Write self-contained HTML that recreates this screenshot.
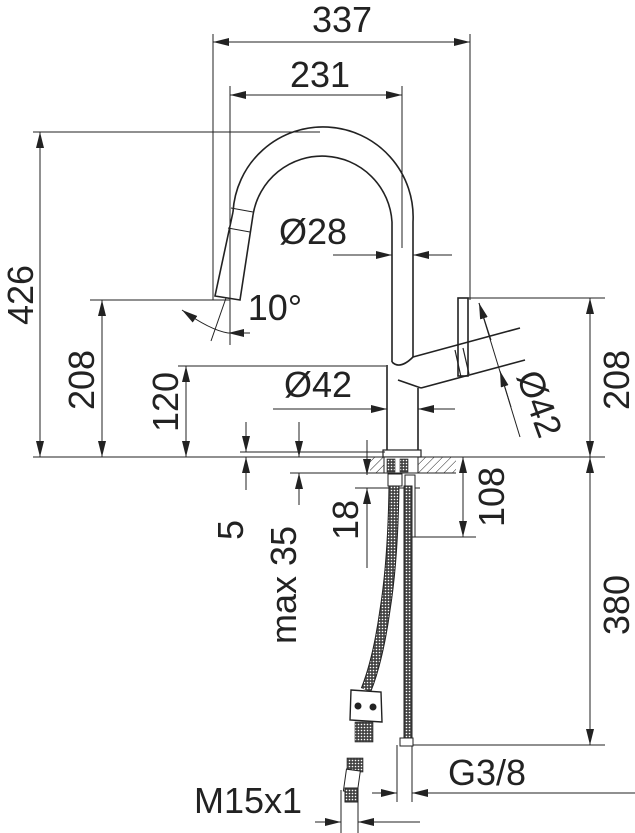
<!DOCTYPE html>
<html><head><style>html,body{margin:0;padding:0;background:#fff}svg{display:block}text{font-family:"Liberation Sans",sans-serif;fill:#222}</style></head>
<body>
<svg width="635" height="833" viewBox="0 0 635 833" xmlns="http://www.w3.org/2000/svg">
<defs>
<marker id="b" viewBox="0 0 16 8" refX="16" refY="4" markerWidth="16" markerHeight="8" orient="auto-start-reverse" markerUnits="userSpaceOnUse"><path d="M0,0L16,4L0,8z" fill="#222"/></marker>
<pattern id="h" width="6" height="6" patternUnits="userSpaceOnUse" patternTransform="rotate(45)"><line x1="0" y1="0" x2="0" y2="6" stroke="#222" stroke-width="1"/></pattern>
<pattern id="m" width="3" height="3" patternUnits="userSpaceOnUse"><rect width="3" height="3" fill="#444"/><circle cx="1.5" cy="1.5" r=".8" fill="#fff"/></pattern>
</defs>
<g stroke="#222" stroke-width="1" fill="none">
<line x1="213" y1="34" x2="213" y2="300"/>
<line x1="470" y1="34" x2="470" y2="300"/>
<line x1="230" y1="86" x2="230" y2="345"/>
<line x1="402" y1="86" x2="402" y2="248"/>
<line x1="33" y1="132" x2="320" y2="132"/>
<line x1="90" y1="300" x2="230" y2="300"/>
<line x1="178" y1="366" x2="386" y2="366"/>
<line x1="460" y1="298" x2="605" y2="298"/>
<line x1="33" y1="457" x2="605" y2="457"/>
<line x1="410" y1="537" x2="476" y2="537"/>
<line x1="400" y1="745" x2="605" y2="745"/>
<line x1="240" y1="452" x2="385" y2="452"/>
<line x1="290" y1="473" x2="385" y2="473"/>
<line x1="355" y1="488" x2="420" y2="488"/>
<line x1="397" y1="745" x2="397" y2="802"/>
<line x1="412" y1="745" x2="412" y2="802"/>
<line x1="341" y1="790" x2="341" y2="833"/>
<line x1="358" y1="790" x2="358" y2="833"/>
<line x1="213" y1="42" x2="470" y2="42" marker-start="url(#b)" marker-end="url(#b)"/>
<line x1="230" y1="95" x2="402" y2="95" marker-start="url(#b)" marker-end="url(#b)"/>
<line x1="40" y1="132" x2="40" y2="457" marker-start="url(#b)" marker-end="url(#b)"/>
<line x1="102" y1="300" x2="102" y2="457" marker-start="url(#b)" marker-end="url(#b)"/>
<line x1="186" y1="366" x2="186" y2="457" marker-start="url(#b)" marker-end="url(#b)"/>
<line x1="590" y1="298" x2="590" y2="457" marker-start="url(#b)" marker-end="url(#b)"/>
<line x1="463" y1="457" x2="463" y2="537" marker-start="url(#b)" marker-end="url(#b)"/>
<line x1="590" y1="457" x2="590" y2="745" marker-start="url(#b)" marker-end="url(#b)"/>
<line x1="246" y1="422" x2="246" y2="452" marker-end="url(#b)"/>
<line x1="246" y1="490" x2="246" y2="457" marker-end="url(#b)"/>
<line x1="299" y1="422" x2="299" y2="457" marker-end="url(#b)"/>
<line x1="299" y1="505" x2="299" y2="473" marker-end="url(#b)"/>
<line x1="367" y1="440" x2="367" y2="475" marker-end="url(#b)"/>
<line x1="367" y1="568" x2="367" y2="488" marker-end="url(#b)"/>
<line x1="333" y1="255" x2="392" y2="255" marker-end="url(#b)"/>
<line x1="452" y1="255" x2="413" y2="255" marker-end="url(#b)"/>
<line x1="273" y1="409" x2="387" y2="409" marker-end="url(#b)"/>
<line x1="455" y1="409" x2="418" y2="409" marker-end="url(#b)"/>
<line x1="250" y1="333" x2="228" y2="333" marker-end="url(#b)"/>
<path d="M182,310 Q210,330 228,333" marker-start="url(#b)"/>
<line x1="211" y1="341" x2="226" y2="298"/>
<line x1="479" y1="303" x2="520" y2="437"/>
<line x1="479" y1="303" x2="491" y2="340" marker-start="url(#b)"/>
<line x1="511" y1="407" x2="500" y2="371" marker-end="url(#b)"/>
<line x1="372" y1="793" x2="397" y2="793" marker-end="url(#b)"/>
<line x1="437" y1="793" x2="412" y2="793" marker-end="url(#b)"/>
<line x1="315" y1="822" x2="341" y2="822" marker-end="url(#b)"/>
<line x1="392" y1="822" x2="358" y2="822" marker-end="url(#b)"/>
<line x1="437" y1="793" x2="635" y2="793"/>
<line x1="392" y1="822" x2="420" y2="822"/>
</g>
<g stroke="#222" stroke-width="1.6" fill="none">
<path d="M233,212 A90,90 0 0 1 413,222 L413,357"/>
<path d="M253,215 A70,70 0 0 1 392,222 L392,362"/>
<path d="M233,212 L215,296 L240,300 L253,215"/>
<line x1="231" y1="208" x2="253" y2="212" stroke-width="1"/>
<line x1="228" y1="228" x2="250" y2="232" stroke-width="1"/>
<path d="M392,362 Q400,370 413,357"/>
<path d="M413,357 L520,328"/>
<path d="M421,388 L525,360"/>
<path d="M398,380 L421,388"/>
<path d="M387,365 L387,450 M418,388 L418,450"/>
<rect x="458" y="298" width="10" height="78"/>
<path d="M455,350 L461,377 M463,348 L469,374" stroke-width="1.2"/>
<rect x="383" y="450" width="38" height="7" stroke-width="1.2"/>
</g>
<rect x="370" y="457" width="86" height="16" fill="url(#h)" stroke="none"/>
<line x1="370" y1="473" x2="456" y2="473" stroke="#222"/>
<rect x="384" y="457" width="34" height="16" fill="#fff" stroke="#222"/>
<rect x="387" y="459" width="8" height="13" fill="url(#m)" stroke="#222" stroke-width=".6"/>
<rect x="400" y="459" width="8" height="13" fill="url(#m)" stroke="#222" stroke-width=".6"/>
<rect x="388" y="474" width="14" height="12" fill="#fff" stroke="#222"/>
<rect x="405" y="475" width="10" height="62" fill="#fff" stroke="#222"/>
<path d="M394,486 Q393,560 385,610 Q378,660 366,690" stroke="#222" stroke-width="11" fill="none"/>
<path d="M394,486 Q393,560 385,610 Q378,660 366,690" stroke="url(#m)" stroke-width="9" fill="none"/>
<rect x="404" y="486" width="8" height="252" fill="url(#m)" stroke="#222" stroke-width="1"/>
<rect x="400" y="738" width="13" height="8" fill="#fff" stroke="#222"/>
<path d="M351,690 L381,692 L382,722 L350,720 Z" fill="#fff" stroke="#222" stroke-width="1.4"/>
<circle cx="358" cy="706" r="3.5" fill="#222"/><circle cx="373" cy="707" r="3.5" fill="#222"/>
<rect x="355" y="722" width="18" height="20" fill="url(#m)" stroke="#222" stroke-width=".6"/>
<rect x="347" y="758" width="16" height="14" fill="url(#m)" stroke="#222" stroke-width=".6"/>
<rect x="345" y="770" width="14" height="22" fill="#fff" stroke="#222" transform="rotate(8 352 780)"/>
<rect x="345" y="788" width="13" height="14" fill="url(#m)" stroke="#222" stroke-width="1"/>
<g font-size="36">
<text x="342" y="32" text-anchor="middle">337</text>
<text x="320" y="87" text-anchor="middle">231</text>
<text x="313" y="244" text-anchor="middle">Ø28</text>
<text x="318" y="397" text-anchor="middle">Ø42</text>
<text x="275" y="320" text-anchor="middle">10°</text>
<text x="487" y="785" text-anchor="middle">G3/8</text>
<text x="248" y="813" text-anchor="middle">M15x1</text>
<text transform="translate(33,295) rotate(-90)" text-anchor="middle">426</text>
<text transform="translate(94,380) rotate(-90)" text-anchor="middle">208</text>
<text transform="translate(178,402) rotate(-90)" text-anchor="middle">120</text>
<text transform="translate(629,380) rotate(-90)" text-anchor="middle">208</text>
<text transform="translate(629,605) rotate(-90)" text-anchor="middle">380</text>
<text transform="translate(504,497) rotate(-90)" text-anchor="middle">108</text>
<text transform="translate(243,530) rotate(-90)" text-anchor="middle">5</text>
<text transform="translate(296,585) rotate(-90)" text-anchor="middle">max 35</text>
<text transform="translate(358,520) rotate(-90)" text-anchor="middle">18</text>
<text transform="translate(528,408) rotate(70)" text-anchor="middle">Ø42</text>
</g>
</svg>
</body></html>
